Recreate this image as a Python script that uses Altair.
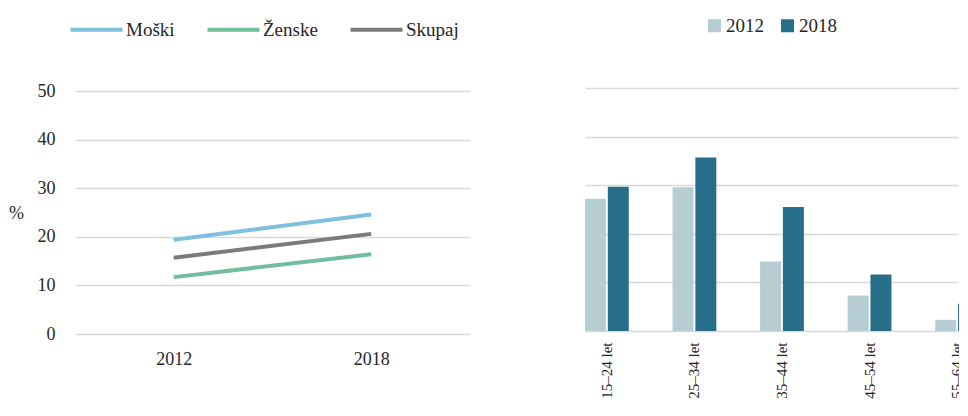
import altair as alt
import pandas as pd

# ---- data ----
years = ["2012", "2018"]
series = ["Moški", "Ženske", "Skupaj"]
moski = [19.4, 24.6]
zenske = [11.7, 16.4]
skupaj = [15.7, 20.6]
line_colors = ["#7EC0DD", "#71BE9F", "#7B7B7B"]

age_groups = ["15–24 let", "25–34 let", "35–44 let", "45–54 let", "55–64 let"]
bar_years = ["2012", "2018"]
vals_2012 = [27.2, 29.6, 14.3, 7.3, 2.3]
vals_2018 = [29.7, 35.7, 25.5, 11.6, 5.6]
bar_colors = ["#B5CDD3", "#276E8A"]

y_ticks = [0, 10, 20, 30, 40, 50]

FONT = "'Liberation Serif', 'DejaVu Serif', serif"
TXT = "#262626"
GRID = "#D9D9D9"

line_df = pd.DataFrame({
    "leto": years * 3,
    "spol": [s for s in series for _ in years],
    "vrednost": moski + zenske + skupaj,
})

bar_df = pd.DataFrame({
    "starost": age_groups * 2,
    "obdobje": [bar_years[0]] * len(age_groups) + [bar_years[1]] * len(age_groups),
    "delez": vals_2012 + vals_2018,
})

H = 243

left = alt.Chart(line_df).mark_line(strokeWidth=4, strokeCap="butt").encode(
    x=alt.X("leto:O", title=None,
            axis=alt.Axis(labelAngle=0, domain=False, ticks=False, labelPadding=16,
                          labelFontSize=18, labelFont=FONT, labelColor=TXT, grid=False)),
    y=alt.Y("vrednost:Q", title="%",
            scale=alt.Scale(domain=[0, 50], nice=False),
            axis=alt.Axis(values=y_ticks, domain=False, ticks=False, labelPadding=20,
                          labelFontSize=18, labelFont=FONT, labelColor=TXT,
                          grid=True, gridColor=GRID, gridWidth=1.5,
                          titleAngle=0, titleX=-59, titleY=122, titleAlign="center",
                          titleBaseline="middle", titleFontWeight="normal",
                          titleFontSize=18, titleFont=FONT, titleColor=TXT)),
    color=alt.Color("spol:N", sort=series,
                    scale=alt.Scale(domain=series, range=line_colors),
                    legend=alt.Legend(orient="none", direction="horizontal", title=None,
                                      legendX=12, legendY=-71, padding=0,
                                      symbolType="M-4,0H4", symbolSize=169,
                                      symbolStrokeWidth=4, labelOffset=20,
                                      columnPadding=24, labelFontSize=19,
                                      labelFont=FONT, labelColor=TXT)),
).properties(width=395, height=H)

right = alt.Chart(bar_df).mark_bar().encode(
    x=alt.X("starost:N", sort=age_groups, title=None,
            scale=alt.Scale(paddingInner=0.5, paddingOuter=0),
            axis=alt.Axis(labelAngle=-90, domain=False, ticks=False, labelPadding=8,
                          labelFontSize=15, labelFont=FONT, labelColor=TXT, grid=False)),
    xOffset=alt.XOffset("obdobje:N", sort=bar_years, scale=alt.Scale(paddingInner=0.08)),
    y=alt.Y("delez:Q", title=None,
            scale=alt.Scale(domain=[0, 50], nice=False, range=[H - 3, -3]),
            axis=alt.Axis(values=y_ticks, domain=False, ticks=False, labels=False,
                          grid=True, gridColor=GRID, gridWidth=1.5)),
    color=alt.Color("obdobje:N", sort=bar_years,
                    scale=alt.Scale(domain=bar_years, range=bar_colors),
                    legend=alt.Legend(orient="none", direction="horizontal", title=None,
                                      legendX=120, legendY=-75, padding=0,
                                      symbolType="square", symbolSize=169,
                                      symbolStrokeWidth=0, labelOffset=2,
                                      columnPadding=14, labelFontSize=19,
                                      labelFont=FONT, labelColor=TXT)),
).properties(width=394, height=H)

chart = alt.hconcat(left, right, spacing=115, bounds="flush").resolve_scale(
    color="independent", x="independent", y="independent"
).properties(
    padding={"left": 0, "top": 8, "right": -20, "bottom": 0}
).configure(font=FONT).configure_view(stroke=None)

chart.save("out.html", embed_options={"renderer": "svg", "actions": False})
